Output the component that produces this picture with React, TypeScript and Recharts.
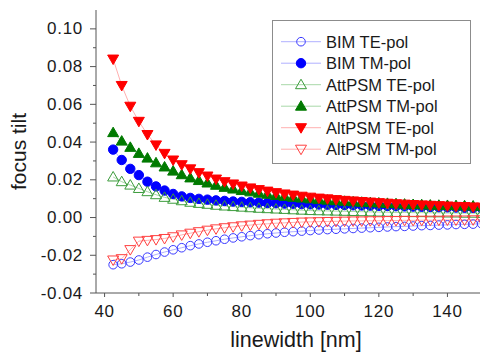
import React from 'react';
import { LineChart, Line, XAxis, YAxis, Legend } from 'recharts';

const linewidth = [
  42.5, 45, 47.5, 50, 52.5, 55, 57.5, 60, 62.5, 65, 67.5, 70, 72.5, 75, 77.5, 80, 82.5, 85, 87.5, 90, 92.5, 95,
  97.5, 100, 102.5, 105, 107.5, 110, 112.5, 115, 117.5, 120, 122.5, 125, 127.5, 130, 132.5, 135, 137.5, 140, 142.5,
  145, 147.5, 150,
];

const bimTE = [
  -0.025, -0.0245, -0.0236, -0.0225, -0.021, -0.0196, -0.0183, -0.0171, -0.016, -0.0149, -0.014, -0.0131, -0.0123,
  -0.0115, -0.0108, -0.0102, -0.0096, -0.0091, -0.0086, -0.0082, -0.0078, -0.0075, -0.0072, -0.0069, -0.0066, -0.0064,
  -0.0062, -0.006, -0.0058, -0.0056, -0.0054, -0.0052, -0.005, -0.0048, -0.0047, -0.0045, -0.0043, -0.0042, -0.004,
  -0.0039, -0.0037, -0.0036, -0.0035, -0.0033,
];
const bimTM = [
  0.036, 0.0305, 0.0258, 0.0225, 0.019, 0.0165, 0.0143, 0.0125, 0.0112, 0.0104, 0.0099, 0.0095, 0.0091, 0.0088,
  0.0085, 0.0083, 0.0081, 0.0079, 0.0077, 0.0076, 0.0074, 0.0073, 0.0071, 0.007, 0.0069, 0.0068, 0.0067, 0.0066,
  0.0065, 0.0064, 0.0063, 0.0062, 0.0061, 0.006, 0.0059, 0.0058, 0.0057, 0.0056, 0.0055, 0.0054, 0.0053, 0.0052,
  0.0051, 0.005,
];
const attTE = [
  0.0215, 0.019, 0.0172, 0.0154, 0.0137, 0.0121, 0.0107, 0.0097, 0.0089, 0.0081, 0.0075, 0.007, 0.0065, 0.0061,
  0.0058, 0.0055, 0.0052, 0.0049, 0.0047, 0.0045, 0.0043, 0.0041, 0.0039, 0.0037, 0.0036, 0.0035, 0.0034, 0.0033,
  0.0032, 0.0031, 0.003, 0.0029, 0.0028, 0.0027, 0.0027, 0.0026, 0.0026, 0.0025, 0.0025, 0.0024, 0.0024, 0.0023,
  0.0023, 0.0022,
];
const attTM = [
  0.045, 0.0405, 0.0372, 0.034, 0.0315, 0.029, 0.0268, 0.0246, 0.0227, 0.021, 0.0196, 0.0183, 0.0171, 0.016, 0.0151,
  0.0143, 0.0136, 0.0129, 0.0123, 0.0117, 0.0112, 0.0107, 0.0103, 0.0099, 0.0095, 0.0092, 0.0089, 0.0086, 0.0083,
  0.0081, 0.0079, 0.0077, 0.0075, 0.0073, 0.0071, 0.0069, 0.0068, 0.0066, 0.0065, 0.0064, 0.0063, 0.0062, 0.0061,
  0.006,
];
const altTE = [
  0.084, 0.07, 0.059, 0.051, 0.044, 0.0385, 0.034, 0.0305, 0.028, 0.0258, 0.0238, 0.022, 0.0204, 0.019, 0.0178,
  0.0167, 0.0157, 0.0148, 0.014, 0.0132, 0.0125, 0.0119, 0.0113, 0.0108, 0.0103, 0.0099, 0.0095, 0.0091, 0.0088,
  0.0085, 0.0082, 0.0079, 0.0076, 0.0073, 0.0071, 0.0069, 0.0067, 0.0065, 0.0063, 0.0061, 0.0059, 0.0058, 0.0056,
  0.0055,
];
const altTM = [
  -0.0225, -0.0218, -0.017, -0.0125, -0.0121, -0.0117, -0.0111, -0.0102, -0.0092, -0.0083, -0.0075, -0.0067, -0.006,
  -0.0054, -0.0049, -0.0044, -0.004, -0.0036, -0.0033, -0.003, -0.0028, -0.0026, -0.0024, -0.0023, -0.0022, -0.0021,
  -0.002, -0.0019, -0.0018, -0.0018, -0.0017, -0.0017, -0.0016, -0.0016, -0.0015, -0.0015, -0.0014, -0.0014, -0.0014,
  -0.0013, -0.0013, -0.0013, -0.0012, -0.0012,
];

const xTicks = [40, 50, 60, 70, 80, 90, 100, 110, 120, 130, 140];
const yTicks = [-0.04, -0.03, -0.02, -0.01, 0, 0.01, 0.02, 0.03, 0.04, 0.05, 0.06, 0.07, 0.08, 0.09, 0.1];

const font = "'Liberation Sans', Arial, sans-serif";
const axisColor = '#555';
const textColor = '#1a1a1a';

type Shape = 'circle' | 'up' | 'down';

const series = [
  { key: 'bimTE', name: 'BIM TE-pol', color: '#3a3aff', line: '#b0b0ff', shape: 'circle' as Shape, filled: false, values: bimTE },
  { key: 'bimTM', name: 'BIM TM-pol', color: '#0000ff', line: '#b0b0ff', shape: 'circle' as Shape, filled: true, values: bimTM },
  { key: 'attTE', name: 'AttPSM TE-pol', color: '#3c9c3c', line: '#a8d8a8', shape: 'up' as Shape, filled: false, values: attTE },
  { key: 'attTM', name: 'AttPSM TM-pol', color: '#007a00', line: '#a8d8a8', shape: 'up' as Shape, filled: true, values: attTM },
  { key: 'altTE', name: 'AltPSM TE-pol', color: '#ff0000', line: '#ffb0b0', shape: 'down' as Shape, filled: true, values: altTE },
  { key: 'altTM', name: 'AltPSM TM-pol', color: '#ff4040', line: '#ffb0b0', shape: 'down' as Shape, filled: false, values: altTM },
];

const data = linewidth.map((x, i) => {
  const row: Record<string, number> = { linewidth: x };
  series.forEach((s) => {
    row[s.key] = s.values[i];
  });
  return row;
});

const Marker = ({ cx, cy, shape, color, filled }: { cx: number; cy: number; shape: Shape; color: string; filled: boolean }) => {
  const fill = filled ? color : 'none';
  if (shape === 'circle') {
    return <circle cx={cx} cy={cy} r={filled ? 4.7 : 4.3} fill={fill} stroke={color} strokeWidth={1} />;
  }
  const pts =
    shape === 'up'
      ? `${cx},${cy - 5.5} ${cx + 5.5},${cy + 4} ${cx - 5.5},${cy + 4}`
      : `${cx - 5.5},${cy - 4} ${cx + 5.5},${cy - 4} ${cx},${cy + 5.5}`;
  return <polygon points={pts} fill={fill} stroke={color} strokeWidth={1} />;
};

const YTick = (props: any) => {
  const { x, y, payload } = props;
  const v = payload.value as number;
  const major = Math.round(v * 100) % 2 === 0;
  return (
    <g>
      <line x1={x - (major ? 6 : 3)} x2={x} y1={y} y2={y} stroke={axisColor} />
      {major && (
        <text
          x={x - 13}
          y={y}
          textAnchor="end"
          dominantBaseline="central"
          fontSize={17}
          letterSpacing={0.7}
          fill={textColor}
          fontFamily={font}
        >
          {v.toFixed(2)}
        </text>
      )}
    </g>
  );
};

const XTick = (props: any) => {
  const { x, y, payload } = props;
  const v = payload.value as number;
  const major = v % 20 === 0;
  return (
    <g>
      <line x1={x} x2={x} y1={y} y2={y + (major ? 4 : 3)} stroke={axisColor} />
      {major && (
        <text x={x} y={y + 24} textAnchor="middle" fontSize={17} letterSpacing={0.7} fill={textColor} fontFamily={font}>
          {v}
        </text>
      )}
    </g>
  );
};

const LegendBox = () => (
  <svg width={200} height={145} style={{ display: 'block' }}>
    <rect x={0.5} y={0.5} width={198} height={143} fill="#fff" stroke="#8c8c8c" />
    {series.map((s, i) => {
      const cy = 21.7 + i * 21.5;
      return (
        <g key={s.key}>
          <line x1={9} x2={49} y1={cy} y2={cy} stroke={s.line} />
          <Marker cx={29} cy={cy} shape={s.shape} color={s.color} filled={s.filled} />
          <text x={54} y={cy} dominantBaseline="central" fontSize={16.5} fill={textColor} fontFamily={font}>
            {s.name}
          </text>
        </g>
      );
    })}
  </svg>
);

const App = () => {
  return (
    <div style={{ position: 'absolute', left: 0, top: 0, width: 480, height: 352, background: '#fff' }}>
      <LineChart width={480} height={352} data={data} margin={{ top: 10, right: 0, left: 0, bottom: 0 }}>
        <XAxis
          type="number"
          dataKey="linewidth"
          domain={[37.5, 149.5]}
          allowDataOverflow
          ticks={xTicks}
          interval={0}
          tickSize={0}
          tickMargin={0}
          tick={<XTick />}
          height={59}
          axisLine={{ stroke: axisColor }}
          label={{
            content: ({ viewBox }: any) => (
              <text
                x={viewBox.x + viewBox.width / 2 + 8}
                y={viewBox.y + 54}
                textAnchor="middle"
                fontSize={21.5}
                fill={textColor}
                fontFamily={font}
              >
                linewidth [nm]
              </text>
            ),
          }}
        />
        <YAxis
          type="number"
          domain={[-0.04, 0.11]}
          allowDataOverflow
          ticks={yTicks}
          interval={0}
          tickSize={0}
          tickMargin={0}
          tick={<YTick />}
          width={96}
          axisLine={{ stroke: axisColor }}
          label={{
            content: ({ viewBox }: any) => {
              const cx = 18;
              const cy = viewBox.y + viewBox.height / 2;
              return (
                <text
                  x={cx}
                  y={cy}
                  transform={`rotate(-90, ${cx}, ${cy})`}
                  textAnchor="middle"
                  dominantBaseline="central"
                  fontSize={21}
                  fill={textColor}
                  fontFamily={font}
                >
                  focus tilt
                </text>
              );
            },
          }}
        />
        <Legend
          layout="vertical"
          align="center"
          verticalAlign="middle"
          content={<LegendBox />}
          wrapperStyle={{ left: 272, top: 20, width: 200, height: 145 }}
        />
        {series.map((s) => (
          <Line
            key={s.key}
            type="linear"
            dataKey={s.key}
            name={s.name}
            stroke={s.line}
            strokeWidth={1}
            isAnimationActive={false}
            activeDot={false}
            dot={(p: any) => (
              <Marker key={`${s.key}-${p.index}`} cx={p.cx} cy={p.cy} shape={s.shape} color={s.color} filled={s.filled} />
            )}
          />
        ))}
      </LineChart>
    </div>
  );
};

export default App;
